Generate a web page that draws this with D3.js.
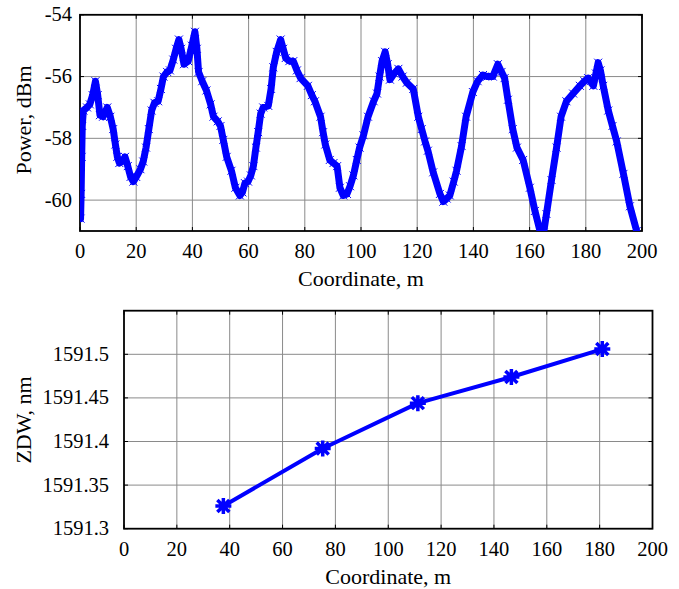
<!DOCTYPE html>
<html>
<head>
<meta charset="utf-8">
<script src="https://cdn.jsdelivr.net/npm/d3@7"></script>
<style>
  body { margin: 0; background: #fff; }
</style>
</head>
<body>
<div id="chart"></div>
<script>
// top panel: power trace along the fibre
const powerX = [0.2, 0.4, 0.6, 0.8, 1.2, 2.5, 3.5, 4.5, 5.5, 6.3, 7.1, 8.2, 9.7, 10.8, 11.8, 12.6, 13.3, 14.0, 15.0, 16.0,
  17.0, 18.0, 19.0, 20.0, 21.5, 22.5, 23.5, 24.5, 25.5, 26.5, 27.8, 28.8, 29.7, 31.0, 32.0, 33.2, 34.2, 35.2, 36.0, 37.0,
  38.5, 39.8, 40.9, 41.6, 42.2, 43.5, 45.0, 46.5, 47.5, 49.0, 50.0, 51.0, 52.2, 53.9, 55.3, 56.9, 57.8, 58.7, 59.8, 60.8,
  61.7, 62.6, 63.4, 64.3, 65.2, 67.0, 68.0, 68.8, 70.0, 71.4, 72.3, 73.2, 74.5, 75.9, 77.2, 78.5, 81.1, 82.5, 83.6, 85.6,
  86.5, 87.3, 88.9, 90.2, 91.5, 92.5, 93.7, 95.0, 96.1, 97.3, 98.5, 99.5, 100.9, 102.5, 104.5, 105.7, 106.6, 107.5, 108.6, 109.5,
  110.3, 111.8, 113.3, 114.8, 116.3, 118.6, 120.4, 121.6, 122.8, 123.8, 125.7, 128.1, 129.3, 130.5, 131.6, 133.0, 134.0, 135.8, 137.4, 139.8,
  141.5, 143.4, 145.0, 146.9, 148.7, 150.0, 151.1, 152.3, 154.0, 155.5, 157.7, 160.1, 161.9, 163.7, 165.0, 166.0, 167.8, 169.6, 171.2, 173.1,
  175.5, 177.9, 179.5, 180.8, 182.7, 183.6, 184.4, 185.2, 186.2, 188.0, 189.5, 191.0, 193.4, 195.7, 198.1, 199.0];
const powerY = [-60.6, -59.8, -58.6, -57.6, -57.1, -57.0, -56.9, -56.6, -56.15, -56.6, -57.25, -57.3, -57.0, -57.3, -57.7, -58.2, -58.6, -58.8, -58.75, -58.6,
  -58.9, -59.25, -59.4, -59.25, -59.0, -58.75, -58.3, -57.7, -57.1, -56.85, -56.8, -56.4, -56.0, -55.85, -55.8, -55.45, -55.1, -54.8, -55.1, -55.6,
  -55.5, -55.0, -54.55, -55.1, -55.85, -56.15, -56.45, -56.9, -57.3, -57.45, -57.6, -58.05, -58.6, -59.05, -59.6, -59.85, -59.75, -59.45, -59.4, -59.2,
  -58.9, -58.3, -57.8, -57.2, -57.0, -56.95, -56.4, -55.7, -55.2, -54.8, -55.1, -55.4, -55.5, -55.5, -55.8, -56.05, -56.3, -56.6, -56.8, -57.3,
  -57.8, -58.2, -58.7, -58.8, -58.9, -59.6, -59.85, -59.8, -59.55, -59.2, -58.7, -58.3, -57.9, -57.3, -56.8, -56.55, -56.0, -55.5, -55.2, -55.6,
  -56.1, -55.9, -55.75, -56.0, -56.2, -56.4, -57.3, -57.7, -58.1, -58.4, -59.1, -59.8, -60.05, -59.95, -59.85, -59.4, -59.05, -58.25, -57.3, -56.5,
  -56.15, -55.95, -56.0, -56.0, -55.6, -55.85, -56.05, -56.75, -57.7, -58.3, -58.7, -59.6, -60.35, -61.0, -61.05, -60.45, -59.35, -58.3, -57.3, -56.8,
  -56.55, -56.3, -56.15, -56.05, -56.3, -55.9, -55.55, -55.8, -56.3, -57.1, -57.6, -58.1, -59.15, -60.2, -61.0, -61.3];

// bottom panel: zero dispersion wavelength
const zdwX = [37.6, 75.2, 111.2, 146.6, 181.0];
const zdwY = [1591.326, 1591.392, 1591.444, 1591.474, 1591.506];

const xTicks = [0, 20, 40, 60, 80, 100, 120, 140, 160, 180, 200];
const powerTicks = [-54, -56, -58, -60];
const zdwTicks = [1591.3, 1591.35, 1591.4, 1591.45, 1591.5];

const width = 679, height = 589;
const blue = "#0000ff";
const serif = "'Liberation Serif', 'Times New Roman', 'DejaVu Serif', serif";

const svg = d3.select("#chart").append("svg")
    .attr("width", width)
    .attr("height", height)
    .attr("font-family", serif);

function panel({left, right, top, bottom, xDomain, yDomain, yTicks, yFormat, yGap, xLabel, xLabelY, yLabel, yLabelX, yLabelY, id}) {
  const x = d3.scaleLinear(xDomain, [left, right]);
  const y = d3.scaleLinear(yDomain, [bottom, top]);
  const g = svg.append("g");

  // grid
  g.append("g")
      .attr("stroke", "#8a8a8a")
      .attr("stroke-width", 1)
    .selectAll("line")
    .data(xTicks.slice(1, -1))
    .join("line")
      .attr("x1", d => x(d)).attr("x2", d => x(d))
      .attr("y1", top).attr("y2", bottom);
  g.append("g")
      .attr("stroke", "#8a8a8a")
      .attr("stroke-width", 1)
    .selectAll("line")
    .data(yTicks.filter(d => d > yDomain[0] && d < yDomain[1]))
    .join("line")
      .attr("x1", left).attr("x2", right)
      .attr("y1", d => y(d)).attr("y2", d => y(d));

  // inward ticks on all four sides
  const tk = 4;
  const ticks = g.append("g").attr("stroke", "#000").attr("stroke-width", 1);
  ticks.append("g").selectAll("line").data(xTicks).join("line")
      .attr("x1", d => x(d)).attr("x2", d => x(d)).attr("y1", bottom).attr("y2", bottom - tk);
  ticks.append("g").selectAll("line").data(xTicks).join("line")
      .attr("x1", d => x(d)).attr("x2", d => x(d)).attr("y1", top).attr("y2", top + tk);
  ticks.append("g").selectAll("line").data(yTicks).join("line")
      .attr("x1", left).attr("x2", left + tk).attr("y1", d => y(d)).attr("y2", d => y(d));
  ticks.append("g").selectAll("line").data(yTicks).join("line")
      .attr("x1", right).attr("x2", right - tk).attr("y1", d => y(d)).attr("y2", d => y(d));

  g.append("defs").append("clipPath").attr("id", id)
    .append("rect")
      .attr("x", left).attr("y", top)
      .attr("width", right - left).attr("height", bottom - top);

  // frame
  g.append("rect")
      .attr("x", left).attr("y", top)
      .attr("width", right - left).attr("height", bottom - top)
      .attr("fill", "none")
      .attr("stroke", "#000")
      .attr("stroke-width", 1.8);

  // tick labels
  g.append("g")
      .attr("font-size", 20.5)
      .attr("text-anchor", "middle")
    .selectAll("text")
    .data(xTicks)
    .join("text")
      .attr("x", d => x(d))
      .attr("y", bottom + 27)
      .text(d => d);
  g.append("g")
      .attr("font-size", 20.5)
      .attr("text-anchor", "end")
    .selectAll("text")
    .data(yTicks)
    .join("text")
      .attr("x", left - yGap)
      .attr("y", d => y(d))
      .attr("dy", "0.32em")
      .text(yFormat);

  g.append("text")
      .attr("font-size", 22)
      .attr("text-anchor", "middle")
      .attr("x", (left + right) / 2)
      .attr("y", xLabelY)
      .text(xLabel);
  g.append("text")
      .attr("font-size", 22)
      .attr("text-anchor", "middle")
      .attr("transform", `translate(${yLabelX},${yLabelY}) rotate(-90)`)
      .text(yLabel);

  return {x, y, g};
}

// ---- top: power
const p1 = panel({
  left: 80, right: 642, top: 14.8, bottom: 231,
  xDomain: [0, 200], yDomain: [-61, -54],
  yTicks: powerTicks, yFormat: d => d, yGap: 8,
  xLabel: "Coordinate, m", xLabelY: 286,
  yLabel: "Power, dBm", yLabelX: 31, yLabelY: 120,
  id: "clip-top"
});

const powerData = powerX.map((d, i) => [d, powerY[i]]);
const powerLine = d3.line().x(d => p1.x(d[0])).y(d => p1.y(d[1]));

const traceG = p1.g.append("g").attr("clip-path", "url(#clip-top)");
traceG.append("path")
    .attr("d", powerLine(powerData))
    .attr("fill", "none")
    .attr("stroke", blue)
    .attr("stroke-width", 7)
    .attr("stroke-linejoin", "round")
    .attr("stroke-linecap", "round");
// x markers sitting on the trace
traceG.append("g")
    .attr("stroke", blue)
    .attr("stroke-width", 1)
  .selectAll("path")
  .data(powerData)
  .join("path")
    .attr("transform", d => `translate(${p1.x(d[0])},${p1.y(d[1])})`)
    .attr("d", "M-4,-4L4,4M-4,4L4,-4");

// ---- bottom: ZDW
const p2 = panel({
  left: 124, right: 652.5, top: 310.7, bottom: 528.7,
  xDomain: [0, 200], yDomain: [1591.3, 1591.55],
  yTicks: zdwTicks, yFormat: d => d3.format("")(d), yGap: 15,
  xLabel: "Coordinate, m", xLabelY: 584,
  yLabel: "ZDW, nm", yLabelX: 31, yLabelY: 420,
  id: "clip-bot"
});

const zdwData = zdwX.map((d, i) => [d, zdwY[i]]);
p2.g.append("path")
    .attr("d", d3.line().x(d => p2.x(d[0])).y(d => p2.y(d[1]))(zdwData))
    .attr("fill", "none")
    .attr("stroke", blue)
    .attr("stroke-width", 4)
    .attr("stroke-linejoin", "round");

// MATLAB-style '*' marker
const star = "M-8,0L8,0M0,-8L0,8M-6,-6L6,6M-6,6L6,-6";
p2.g.append("g")
    .attr("stroke", blue)
    .attr("stroke-width", 3.5)
  .selectAll("path")
  .data(zdwData)
  .join("path")
    .attr("transform", d => `translate(${p2.x(d[0])},${p2.y(d[1])})`)
    .attr("d", star);
</script>
</body>
</html>
